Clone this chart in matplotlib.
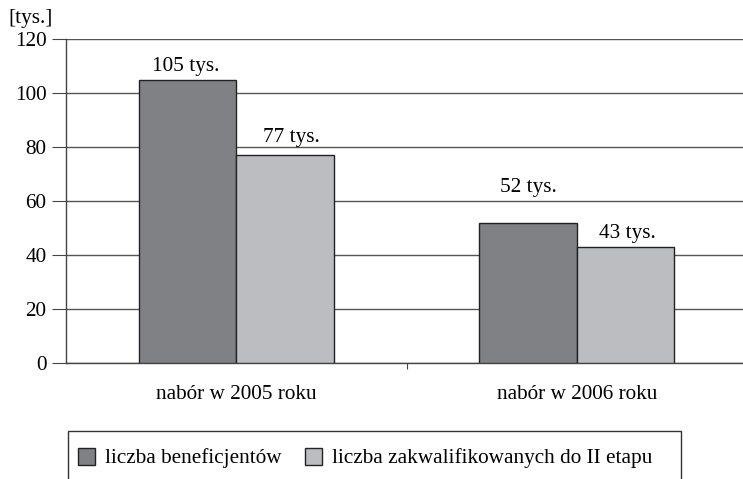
import numpy as np
import matplotlib.pyplot as plt
from matplotlib.patches import Patch, Rectangle

# -------------------------
# DATA
# -------------------------
categories = ["nabór w 2005 roku", "nabór w 2006 roku"]
series_names = ["liczba beneficjentów", "liczba zakwalifikowanych do II etapu"]
beneficjenci = [105, 52]
zakwalifikowani = [77, 43]
y_ticks = [0, 20, 40, 60, 80, 100, 120]

colors = ["#808185", "#bcbdc1"]

plt.rcParams["font.family"] = ["Liberation Serif", "DejaVu Serif"]
plt.rcParams["font.size"] = 15.3

# -------------------------
# PLOT
# -------------------------
fig = plt.figure(figsize=(7.43, 4.79), dpi=100)
W, H = 743, 479
# axes: left 66px, right ~747px (cut off), top 39px, bottom 363px
ax = fig.add_axes([66 / W, 1 - 363 / H, (747 - 66) / W, (363 - 39) / H])

x = np.arange(len(categories))
bw = 0.287
b1 = ax.bar(x - bw / 2, beneficjenci, bw, color=colors[0], edgecolor="#222222",
            linewidth=1.0, zorder=3)
b2 = ax.bar(x + bw / 2, zakwalifikowani, bw, color=colors[1], edgecolor="#222222",
            linewidth=1.0, zorder=3)

# value labels, offsets in pixels (label centre above bar top)
offsets1 = [(-2, 13), (0, 35)]
offsets2 = [(6, 18), (2, 13)]
for bars, vals, offs in [(b1, beneficjenci, offsets1), (b2, zakwalifikowani, offsets2)]:
    for bar, v, off in zip(bars, vals, offs):
        ax.annotate(f"{v} tys.", (bar.get_x() + bar.get_width() / 2, v),
                    xytext=off, textcoords="offset pixels",
                    ha="center", va="center")

ax.set_ylim(0, 120)
ax.set_xlim(-0.5, 1.5)
ax.set_yticks(y_ticks)
ax.yaxis.grid(True, color="#555555", linewidth=1.0, zorder=0)
ax.set_axisbelow(True)

# category labels, one tick between the groups
ax.set_xticks([0.5])
ax.set_xticklabels([""])
ax.tick_params(axis="x", length=4, direction="out", color="#444444")
for xi, c in zip(x, categories):
    ax.text(xi, -11.5, c, ha="center", va="center")

ax.tick_params(axis="y", length=10, direction="out", color="#444444", pad=4)
for s in ["top", "right"]:
    ax.spines[s].set_visible(False)
for s in ["left", "bottom"]:
    ax.spines[s].set_color("#444444")
    ax.spines[s].set_linewidth(1.0)

fig.text(8 / W, 1 - 18 / H, "[tys.]", ha="left", va="center")

# legend box, cut off at the bottom as in the original
box = Rectangle((68 / W, -0.05), (681 - 68) / W, (1 - 431 / H) + 0.05,
                transform=fig.transFigure, facecolor="none",
                edgecolor="#333333", linewidth=1.0)
fig.patches.append(box)

handles = [Patch(facecolor=colors[0], edgecolor="#222222"),
           Patch(facecolor=colors[1], edgecolor="#222222")]
leg = fig.legend(handles, series_names, loc="center left",
                 bbox_to_anchor=(78 / W, 1 - 458 / H),
                 ncol=2, frameon=False,
                 handlelength=0.8, handleheight=0.85, handletextpad=0.47,
                 columnspacing=1.08, borderpad=0, borderaxespad=0)

fig.savefig("out.png", dpi=100)
